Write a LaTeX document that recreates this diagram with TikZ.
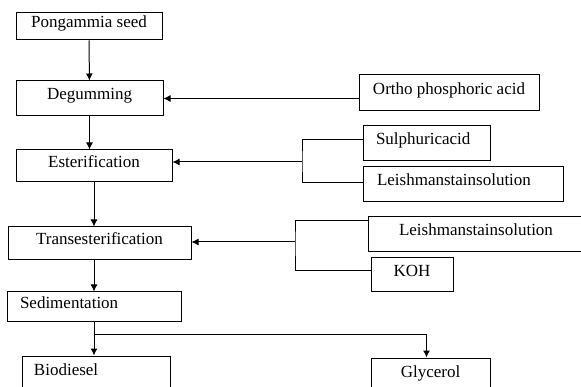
\documentclass[tikz,border=0pt]{standalone}
\usepackage{fontspec}
\setmainfont{Liberation Serif}
\usetikzlibrary{arrows.meta}
\tikzset{box/.style = {draw, line width = 1pt, inner sep = 0, text height = 12pt, text depth = 9pt, font = \fontsize{17}{20}\selectfont}}
\tikzset{lbox/.style = {box, align = left}}
\tikzset{arr/.style = {-{Latex[length = 7pt, width = 7pt]}, line width = 1pt}}

\begin{document}
\begin{tikzpicture}[x = 1pt, y = -1pt]
    \useasboundingbox (0, 0) rectangle (581, 387);
    \clip (0, 0) rectangle (581, 387);

    % process steps
    \node [box, minimum width = 146pt, minimum height = 27pt] (seed) at (89, 26.5) {Pongammia seed};
    \node [box, minimum width = 147pt, minimum height = 35pt] (degum) at (89.5, 98.5) {Degumming};
    \node [box, minimum width = 156pt, minimum height = 32pt] (ester) at (94, 166) {Esterification};
    \node [box, minimum width = 183pt, minimum height = 33pt] (trans) at (99.5, 243.5) {Transesterification};
    \node [lbox, inner xsep = 13pt, text width = 148pt, minimum height = 30pt] (sedim) at (94, 307) {Sedimentation};
    \node [lbox, inner xsep = 12pt, text width = 124pt, minimum height = 36pt] (bio) at (96, 374) {Biodiesel};
    \node [box, minimum width = 119pt, minimum height = 36pt] (glyc) at (430.5, 376) {Glycerol};

    % inputs
    \node [box, minimum width = 180pt, minimum height = 36pt] (ortho) at (449, 93) {Ortho phosphoric acid};
    \node [lbox, inner xsep = 13pt, text width = 101pt, minimum height = 35pt] (sulph) at (426.5, 143.5) {Sulphuricacid};
    \node [lbox, inner xsep = 14pt, text width = 172pt, minimum height = 35pt] (leish) at (463, 184.5) {Leishmanstainsolution};
    \node [box, minimum width = 216pt, minimum height = 35pt] (leishb) at (476, 234.5) {Leishmanstainsolution};
    \node [box, minimum width = 82pt, minimum height = 34pt] (koh) at (412, 275) {KOH};

    \coordinate (ebr) at (302, 162);
    \coordinate (tbr) at (295, 242);
    \coordinate (split) at (94, 335);

    \draw [arr] (seed) -- (degum);
    \draw [arr] (degum.south) -- (degum.south |- ester.north);
    \draw [arr] (ester.south) -- (ester.south |- trans.north);
    \draw [arr] (sedim.north |- trans.south) -- (sedim.north);
    \draw [arr] (sedim.south) -- (sedim.south |- bio.north);
    \draw [arr] (split) -| ([xshift = -4pt]glyc.north);

    \draw [arr] (ortho.west |- degum) -- (degum.east);

    \draw [line width = 1pt] ([yshift = 4pt]sulph.west) -| (ebr) |- ([yshift = 2pt]leish.west);
    \draw [arr] (ebr) -- (ebr -| ester.east);

    \draw [line width = 1pt] ([yshift = 14pt]leishb.west) -| (tbr) |- ([yshift = 4pt]koh.west);
    \draw [arr] (tbr) -- (tbr -| trans.east);
\end{tikzpicture}
\end{document}
